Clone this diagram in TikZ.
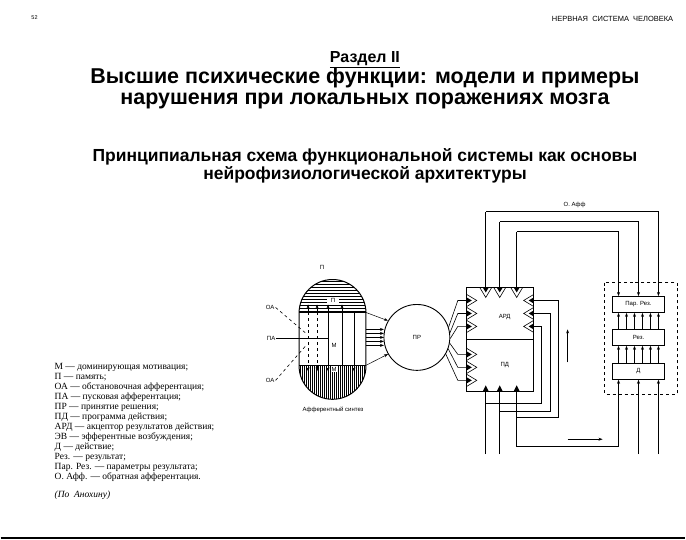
\documentclass[tikz,border=0pt]{standalone}
\usepackage{fontspec}
\setmainfont{Liberation Serif}
\newfontfamily\headfont{Liberation Sans}
\usetikzlibrary{arrows.meta}
\tikzset{
  lbl/.style={font=\headfont\fontsize{6}{7}\selectfont, inner sep=1pt},
  blk/.style={draw, line width=0.9pt, minimum width=52pt, minimum height=16pt, font=\headfont\fontsize{6}{7}\selectfont},
  arr/.style={-{Stealth[length=4pt,width=3pt]}, line width=0.5pt},
  wire/.style={line width=0.6pt},
}
\begin{document}
\begin{tikzpicture}[x=1pt,y=-1pt]
	\fill[white] (0,0) rectangle (686,540);
	% page header
		\node[lbl, font=\headfont\fontsize{5.5}{6}\selectfont] (pg) at (34,18) {52};
		\node[lbl, font=\headfont\fontsize{7.5}{8}\selectfont, anchor=east] (hd) at (675,19) {НЕРВНАЯ \ СИСТЕМА \ ЧЕЛОВЕКА};
		\node[font=\headfont\bfseries\fontsize{16}{18}\selectfont] (sec) at (365,60) {\underline{Раздел II}};
		\node[font=\headfont\bfseries\fontsize{21.5}{21}\selectfont, align=center] (ttl) at (365,89) {Высшие психические функции: модели и примеры\\нарушения при локальных поражениях мозга};
		\node[font=\headfont\bfseries\fontsize{17.5}{17.5}\selectfont, align=center] (sub) at (365,166) {Принципиальная схема функциональной системы как основы\\нейрофизиологической архитектуры};
	% afferent synthesis
		\begin{scope}
			\clip[rounded corners=33.5pt] (299,280) rectangle (366,400);
			\foreach \y in {282,285,...,312}{
				\draw[line width=0.4pt] (299,\y) -- (366,\y);
				}
			\foreach \x in {300,302,...,366}{
				\draw[line width=0.5pt] (\x,366) -- (\x,400);
				}
		\end{scope}
		\draw[line width=1pt, rounded corners=33.5pt] (299,280) rectangle (366,400);
		\draw[wire] (299,313) -- (366,313);
		\draw[wire] (299,366) -- (366,366);
		\foreach \x in {328,342,354}{
			\draw[wire] (\x,313) -- (\x,366);
			}
		\foreach \x in {308,317}{
			\draw[wire, dashed] (\x,313) -- (\x,366);
			\draw[arr] (\x,313) -- (\x,305);
			\draw[arr] (\x,366) -- (\x,372);
			}
		\draw[arr] (328,313) -- (328,305);
		\draw[arr] (342,313) -- (342,305);
		\draw[arr] (328,366) -- (328,372);
		\draw[arr] (354,366) -- (354,372);
		\fill[white] (327,298) rectangle (339,304);
		\node[lbl] (pin) at (333,301) {П};
		\node[lbl] (mmid) at (334,346) {М};
		\node[lbl, fill=white] (mlow) at (334,370) {М};
		\node[lbl] (plbl) at (322,268) {П};
		\node[lbl] (oa1) at (270,308) {ОА};
		\node[lbl] (oa2) at (270,381) {ОА};
		\node[lbl] (pa) at (271,339) {ПА};
		\coordinate (oa1e) at (306,334);
		\coordinate (oa2e) at (306,346);
		\draw[wire, dashed] (oa1.east) -- (oa1e);
		\draw[wire, dashed] (oa2.east) -- (oa2e);
		\draw[line width=1.4pt] (pa.east) -- (328,339);
		\node[lbl] (as) at (333,411) {Афферентный синтез};
	% decision
		\node[draw, line width=0.9pt, circle, minimum size=66pt, lbl] (pr) at (417,338) {ПР};
		\draw[arr] (366,313) -- (pr.150);
		\draw[arr] (366,366) -- (pr.210);
		\foreach \y in {330,334,...,348}{
			\draw[arr] (366,\y) -- (384,\y);
			}
	% acceptor and program
		\draw[line width=1pt] (467,288) rectangle (534,392);
		\draw[line width=0.8pt] (467,340) -- (534,340);
		\node[lbl] (ard) at (505,318) {АРД};
		\node[lbl] (pd) at (505,366) {ПД};
		\foreach \x in {486,500,517}{
			\draw[wire] (\x-6,288) -- (\x,298) -- (\x+6,288);
			\fill (\x-3,288) -- (\x,293) -- (\x+3,288) -- cycle;
			}
		\foreach \y in {301,314,327,355,368,381}{
			\draw[wire] (467,\y-6) -- (477,\y) -- (467,\y+6);
			\fill (467,\y-3) -- (472,\y) -- (467,\y+3) -- cycle;
			}
		\foreach \y in {301,314,327}{
			\draw[wire] (534,\y-6) -- (524,\y) -- (534,\y+6);
			\fill (534,\y-3) -- (529,\y) -- (534,\y+3) -- cycle;
			}
		\foreach \y/\a in {301/18,314/8,327/-2,355/-10,368/-20,381/-30}{
			\draw[wire] (pr.\a) -- (458,\y) -- (467,\y);
			}
		\foreach \x in {486,500,517}{
			\fill (\x-3,392) -- (\x,386) -- (\x+3,392) -- cycle;
			}
	% back afferentation and results
		\node[lbl] (oaff) at (575,205) {О. Афф};
		\draw[line width=1.2pt, dashed] (605,283) rectangle (678,395);
		\node[blk] (parres) at (639,305) {Пар. Рез.};
		\node[blk] (res) at (639,338) {Рез.};
		\node[blk] (act) at (639,372) {Д};
		\coordinate (cl) at (619,0);
		\coordinate (cr) at (659,0);
		\foreach \x/\h in {486/212,500/222,517/232}{
			\draw[wire] (\x,288) -- (\x,\h);
			}
		\draw[wire, arr] (486,212) -- (659,212) -- (parres.north -| cr);
		\draw[wire, arr] (500,222) -- (639,222) -- (parres.north);
		\draw[wire, arr] (517,232) -- (619,232) -- (parres.north -| cl);
		\foreach \x in {-20,-12,-4,4,12,20}{
			\draw[arr] ([xshift=\x pt]res.north) -- ([xshift=\x pt]parres.south);
			\draw[arr] ([xshift=\x pt]act.north) -- ([xshift=\x pt]res.south);
			}
		\foreach \y/\r/\l in {301/559/418,314/551/412,327/542/404}{
			\draw[wire] (534,\y) -- (\r,\y) -- (\r,\l);
			}
		\draw[wire] (559,418) -- (517,418);
		\draw[wire] (551,412) -- (500,412);
		\draw[wire] (542,404) -- (486,404);
		\draw[wire] (486,455) -- (486,392);
		\draw[wire] (500,455) -- (500,392);
		\draw[wire] (517,392) -- (517,447) -- (619,447);
		\draw[arr] (619,447) -- (act.south -| cl);
		\draw[arr] (639,455) -- (act.south);
		\draw[arr] (659,455) -- (act.south -| cr);
		\coordinate (upa) at (568,363);
		\coordinate (upb) at (568,330);
		\draw[arr, line width=1pt] (upa) -- (upb);
		\coordinate (ra) at (568,440);
		\coordinate (rb) at (603,440);
		\draw[arr, line width=1pt] (ra) -- (rb);
	% legend
		\node[anchor=north west, align=left, font=\fontsize{9.5}{10}\selectfont, inner sep=0pt] (leg) at (54,364) {М — доминирующая мотивация;\\П — память;\\ОА — обстановочная афферентация;\\ПА — пусковая афферентация;\\ПР — принятие решения;\\ПД — программа действия;\\АРД — акцептор результатов действия;\\ЭВ — эфферентные возбуждения;\\Д — действие;\\Рез. — результат;\\Пар. Рез. — параметры результата;\\О. Афф. — обратная афферентация.};
		\node[anchor=north west, font=\itshape\fontsize{9.5}{10}\selectfont, inner sep=0pt] (src) at (54,492) {(По \ Анохину)};
		\draw[line width=1.2pt] (0,539) -- (686,539);
\end{tikzpicture}
\end{document}
